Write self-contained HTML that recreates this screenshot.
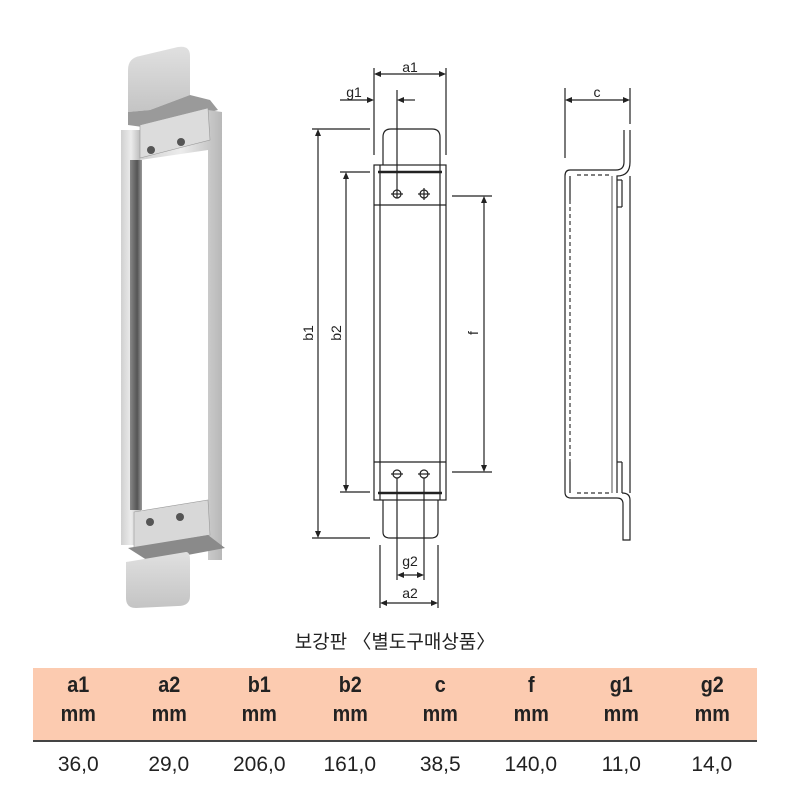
<!DOCTYPE html>
<html><head><meta charset="utf-8"><style>
html,body{margin:0;padding:0;background:#fff;}
body{width:790px;height:797px;position:relative;overflow:hidden;font-family:"Liberation Sans","Noto Sans CJK KR",sans-serif;}
svg{position:absolute;left:0;top:0;}
.t{position:absolute;font-family:"Liberation Sans",Arial,sans-serif;}
.h div{transform:scaleX(0.9);}
</style></head><body>
<svg width="790" height="797" viewBox="0 0 790 797">
<defs>
<linearGradient id="rail" x1="0" x2="1"><stop offset="0" stop-color="#d0d0d0"/><stop offset="0.5" stop-color="#ececec"/><stop offset="1" stop-color="#b8b8b8"/></linearGradient>
<linearGradient id="dark" x1="0" x2="1"><stop offset="0" stop-color="#888"/><stop offset="0.6" stop-color="#555"/><stop offset="1" stop-color="#999"/></linearGradient>
<linearGradient id="tab" x1="0" y1="0" x2="0" y2="1"><stop offset="0" stop-color="#e0e0e0"/><stop offset="1" stop-color="#c4c4c4"/></linearGradient>
</defs>
<g>
<path d="M128 70 Q128 58 140 56 L178 47 Q190 45 190 56 L190 95 L150 110 L128 112 Z" fill="url(#tab)"/>
<path d="M128 112 L150 110 L190 95 L210 100 L218 110 L150 128 L128 125 Z" fill="#9a9a9a"/>
<rect x="121" y="130" width="20" height="415" fill="url(#rail)"/>
<rect x="130" y="160" width="12" height="350" fill="url(#dark)"/>
<path d="M140 130 L208 110 L222 112 L222 560 L208 560 L208 150 L140 160 Z" fill="url(#rail)"/>
<path d="M140 125 L208 108 L210 140 L140 158 Z" fill="#dcdcdc" stroke="#999" stroke-width="0.6"/>
<circle cx="151" cy="150" r="4" fill="#555"/><circle cx="181" cy="142" r="4" fill="#555"/>
<path d="M134 512 L208 500 L210 535 L134 548 Z" fill="#d8d8d8" stroke="#999" stroke-width="0.6"/>
<circle cx="150" cy="522" r="4" fill="#555"/><circle cx="180" cy="517" r="4" fill="#555"/>
<path d="M128 548 L208 535 L225 548 L150 562 Z" fill="#8a8a8a"/>
<path d="M126 562 L186 552 Q190 552 190 560 L190 596 Q190 606 178 606 L136 608 Q126 608 126 598 Z" fill="url(#tab)"/>
</g>
<g stroke="#222" stroke-width="1.2" fill="none">
<path d="M383 165 L383 137 Q383 129 391 129 L432 129 Q440 129 440 137 L440 165"/>
<rect x="374" y="165" width="72" height="335"/>
<line x1="380" y1="165" x2="380" y2="500"/><line x1="440" y1="165" x2="440" y2="500"/>
<line x1="378" y1="172" x2="442" y2="172" stroke-width="2.5"/>
<line x1="374" y1="205" x2="446" y2="205"/>
<line x1="374" y1="462" x2="446" y2="462"/>
<line x1="378" y1="493" x2="442" y2="493" stroke-width="2.5"/>
<path d="M383 500 L383 532 Q383 538 390 538 L431 538 Q438 538 438 532 L438 500"/>
<circle cx="397" cy="194" r="4"/><circle cx="424" cy="194" r="4"/>
<circle cx="397" cy="474" r="4"/><circle cx="424" cy="474" r="4"/>
<line x1="424" y1="188" x2="424" y2="200"/><line x1="418" y1="194" x2="430" y2="194"/>
<line x1="391" y1="194" x2="403" y2="194"/><line x1="391" y1="474" x2="403" y2="474"/><line x1="418" y1="474" x2="430" y2="474"/>
<line x1="374" y1="68" x2="374" y2="155"/><line x1="446" y1="68" x2="446" y2="155"/>
<line x1="378" y1="74" x2="442" y2="74"/>
<line x1="340" y1="100" x2="370" y2="100"/><line x1="401" y1="100" x2="415" y2="100"/>
<line x1="397" y1="90" x2="397" y2="198"/>
<line x1="312" y1="129" x2="370" y2="129"/><line x1="312" y1="538" x2="370" y2="538"/>
<line x1="318" y1="133" x2="318" y2="534"/>
<line x1="340" y1="172" x2="370" y2="172"/><line x1="340" y1="492" x2="370" y2="492"/>
<line x1="346" y1="176" x2="346" y2="488"/>
<line x1="452" y1="196" x2="492" y2="196"/><line x1="452" y1="472" x2="492" y2="472"/>
<line x1="484" y1="200" x2="484" y2="468"/>
<line x1="397" y1="478" x2="397" y2="580"/><line x1="424" y1="478" x2="424" y2="580"/>
<line x1="401" y1="575" x2="420" y2="575"/>
<line x1="380" y1="545" x2="380" y2="608"/><line x1="438" y1="545" x2="438" y2="608"/>
<line x1="384" y1="603" x2="434" y2="603"/>
<line x1="565" y1="88" x2="565" y2="158"/><line x1="630" y1="88" x2="630" y2="124"/>
<line x1="569" y1="100" x2="626" y2="100"/>
<path d="M624 130 L624 162 Q624 170 616 170 L570 170 Q565 170 565 176 L565 492 Q565 498 571 498 L617 498 Q623 498 623 504 L623 540 L630 540 L630 500 Q630 493 622 493"/>
<path d="M630 130 L630 162 Q630 176 617 176 L617 493"/>
<line x1="630" y1="176" x2="630" y2="493"/>
<line x1="570" y1="176" x2="570" y2="200"/><line x1="570" y1="462" x2="570" y2="493"/>
<line x1="617" y1="180" x2="622" y2="180"/><line x1="622" y1="180" x2="622" y2="207"/><line x1="617" y1="207" x2="622" y2="207"/>
<line x1="617" y1="462" x2="622" y2="462"/><line x1="622" y1="462" x2="622" y2="493"/>
<line x1="612" y1="176" x2="612" y2="493" stroke-width="0.8"/>
</g>
<g stroke="#333" stroke-width="1.2" stroke-dasharray="4,3" fill="none">
<line x1="570" y1="200" x2="570" y2="462"/>
<line x1="577" y1="175" x2="612" y2="175"/>
<line x1="577" y1="493" x2="612" y2="493"/>
</g>
<g fill="#222">
<path d="M374 74 l7 -3 v6z"/><path d="M446 74 l-7 -3 v6z"/>
<path d="M374 100 l-7 -3 v6z"/><path d="M397 100 l7 -3 v6z"/>
<path d="M318 129 l-3 7 h6z"/><path d="M318 538 l-3 -7 h6z"/>
<path d="M346 172 l-3 7 h6z"/><path d="M346 492 l-3 -7 h6z"/>
<path d="M484 196 l-3 7 h6z"/><path d="M484 472 l-3 -7 h6z"/>
<path d="M397 575 l7 -3 v6z"/><path d="M424 575 l-7 -3 v6z"/>
<path d="M380 603 l7 -3 v6z"/><path d="M438 603 l-7 -3 v6z"/>
<path d="M565 100 l7 -3 v6z"/><path d="M630 100 l-7 -3 v6z"/>
</g>
<g font-family="Liberation Sans, sans-serif" font-size="14" fill="#222" text-anchor="middle">
<text x="410" y="72">a1</text><text x="354" y="97">g1</text>
<text x="597" y="97">c</text>
<text x="410" y="566">g2</text><text x="410" y="598">a2</text>
<text transform="translate(313,333) rotate(-90)">b1</text>
<text transform="translate(341,333) rotate(-90)">b2</text>
<text transform="translate(478,333) rotate(-90)">f</text>
</g>
<rect x="33" y="668" width="724" height="72" fill="#fccbb0"/>
<rect x="33" y="740" width="724" height="2" fill="#444"/>
</svg>
<div class="t" style="left:0;width:790px;top:627px;text-align:center;font-size:19px;color:#222;font-family:'Liberation Sans','Noto Sans CJK KR',sans-serif;">보강판 〈별도구매상품〉</div>
<div class="h" style="position:absolute;left:33px;top:670px;width:724px;display:flex;font-family:'Liberation Sans',sans-serif;font-weight:bold;font-size:22px;line-height:29px;color:#222;text-align:center;">
<div style="flex:1">a1<br>mm</div><div style="flex:1">a2<br>mm</div><div style="flex:1">b1<br>mm</div><div style="flex:1">b2<br>mm</div><div style="flex:1">c<br>mm</div><div style="flex:1">f<br>mm</div><div style="flex:1">g1<br>mm</div><div style="flex:1">g2<br>mm</div>
</div>
<div style="position:absolute;left:33px;top:753px;width:724px;display:flex;font-family:'Liberation Sans',sans-serif;font-size:21px;color:#222;text-align:center;">
<div style="flex:1">36,0</div><div style="flex:1">29,0</div><div style="flex:1">206,0</div><div style="flex:1">161,0</div><div style="flex:1">38,5</div><div style="flex:1">140,0</div><div style="flex:1">11,0</div><div style="flex:1">14,0</div>
</div>
</body></html>
